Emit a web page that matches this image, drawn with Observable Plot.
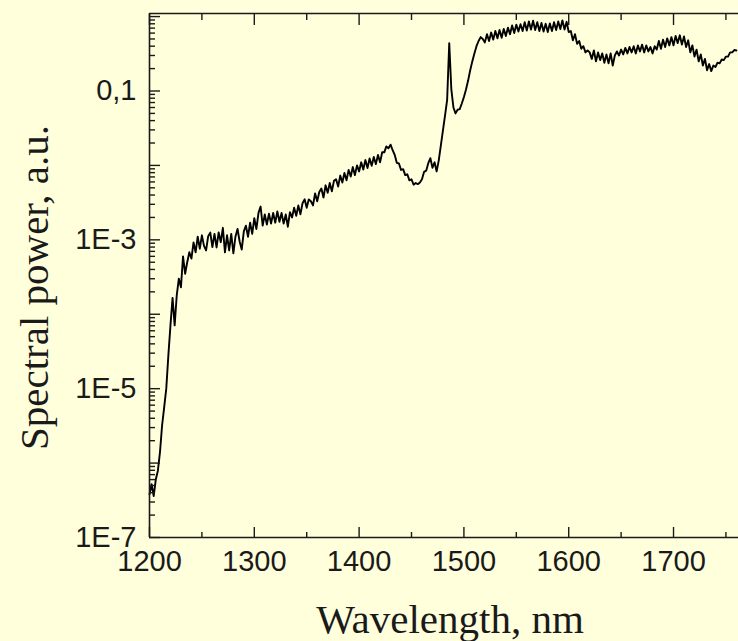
<!DOCTYPE html>
<html>
<head>
<meta charset="utf-8">
<script src="https://cdn.jsdelivr.net/npm/d3@7"></script>
<script src="https://cdn.jsdelivr.net/npm/@observablehq/plot@0.6"></script>
<style>
  html, body { margin: 0; padding: 0; background: #FFFFDC; }
  #chart { width: 738px; height: 641px; overflow: hidden; }
</style>
</head>
<body>
<div id="chart"></div>
<script>
// Sampling grid of the spectrum (nm)
const wavelengthStart = 1200;
const wavelengthStep = 2;

// Spectral power (a.u.), one value per 2 nm from 1200 nm to 1760 nm
const power = [
  // 1200–1218
  3.8e-7, 5.2e-7, 3.6e-7, 6.0e-7, 7.9e-7, 1.4e-6, 3.2e-6, 5.6e-6, 1.0e-5, 2.8e-5,
  // 1220–1238
  7.1e-5, 1.66e-4, 7.1e-5, 1.8e-4, 3.0e-4, 2.3e-4, 6.0e-4, 3.5e-4, 5.0e-4, 6.8e-4,
  // 1240–1258
  5.6e-4, 9.2e-4, 6.8e-4, 1.1e-3, 7.6e-4, 1.15e-3, 8.3e-4, 7.2e-4, 1.12e-3, 1.25e-3,
  // 1260–1278
  8.0e-4, 1.2e-3, 7.9e-4, 1.26e-3, 9.3e-4, 1.45e-3, 6.8e-4, 1.15e-3, 7.2e-4, 1.2e-3,
  // 1280–1298
  6.6e-4, 1.1e-3, 1.4e-3, 9.5e-4, 7.4e-4, 1.3e-3, 1.55e-3, 1.1e-3, 1.7e-3, 1.2e-3,
  // 1300–1318
  1.95e-3, 1.4e-3, 2.3e-3, 2.8e-3, 1.55e-3, 2.2e-3, 1.6e-3, 2.25e-3, 1.65e-3, 2.3e-3,
  // 1320–1338
  1.7e-3, 2.4e-3, 1.75e-3, 2.3e-3, 1.65e-3, 2.2e-3, 1.5e-3, 2.35e-3, 2.0e-3, 2.7e-3,
  // 1340–1358
  2.1e-3, 2.9e-3, 2.2e-3, 3.1e-3, 3.5e-3, 2.7e-3, 3.5e-3, 3.3e-3, 2.9e-3, 4.2e-3,
  // 1360–1378
  3.3e-3, 4.4e-3, 4.9e-3, 3.7e-3, 5.4e-3, 4.3e-3, 5.8e-3, 4.5e-3, 6.2e-3, 6.5e-3,
  // 1380–1398
  5.2e-3, 7.3e-3, 5.9e-3, 7.9e-3, 6.3e-3, 8.7e-3, 7.1e-3, 9.5e-3, 7.4e-3, 1.0e-2,
  // 1400–1418
  8.3e-3, 1.1e-2, 8.8e-3, 1.18e-2, 9.2e-3, 1.24e-2, 9.9e-3, 1.3e-2, 1.04e-2, 1.38e-2,
  // 1420–1438
  1.1e-2, 1.5e-2, 1.5e-2, 1.8e-2, 1.7e-2, 1.9e-2, 1.6e-2, 1.38e-2, 1.08e-2, 1.06e-2,
  // 1440–1458
  8.7e-3, 8.9e-3, 7.4e-3, 7.6e-3, 6.3e-3, 6.5e-3, 5.5e-3, 5.8e-3, 5.6e-3, 5.9e-3,
  // 1460–1478
  6.5e-3, 8.2e-3, 8.5e-3, 1.07e-2, 1.25e-2, 9.3e-3, 1.1e-2, 8.3e-3, 1.17e-2, 1.86e-2,
  // 1480–1498
  2.95e-2, 4.7e-2, 7.6e-2, 0.44, 0.105, 6.0e-2, 5.0e-2, 5.6e-2, 5.7e-2, 6.8e-2,
  // 1500–1518
  8.3e-2, 0.105, 0.138, 0.19, 0.25, 0.32, 0.40, 0.47, 0.53, 0.50,
  // 1520–1538
  0.45, 0.58, 0.47, 0.61, 0.49, 0.64, 0.51, 0.66, 0.52, 0.68,
  // 1540–1558
  0.55, 0.71, 0.58, 0.76, 0.60, 0.78, 0.63, 0.79, 0.64, 0.84,
  // 1560–1578
  0.65, 0.86, 0.67, 0.88, 0.66, 0.84, 0.64, 0.82, 0.63, 0.80,
  // 1580–1598
  0.62, 0.81, 0.64, 0.84, 0.66, 0.86, 0.68, 0.89, 0.67, 0.85,
  // 1600–1618
  0.62, 0.64, 0.48, 0.58, 0.43, 0.47, 0.37, 0.40, 0.33, 0.35,
  // 1620–1638
  0.33, 0.27, 0.35, 0.25, 0.33, 0.26, 0.32, 0.24, 0.31, 0.235,
  // 1640–1658
  0.32, 0.22, 0.30, 0.34, 0.30, 0.36, 0.31, 0.38, 0.32, 0.39,
  // 1660–1678
  0.33, 0.40, 0.32, 0.41, 0.34, 0.42, 0.33, 0.41, 0.34, 0.39,
  // 1680–1698
  0.32, 0.40, 0.36, 0.47, 0.37, 0.49, 0.39, 0.51, 0.41, 0.53,
  // 1700–1718
  0.41, 0.55, 0.44, 0.56, 0.42, 0.54, 0.39, 0.48, 0.33, 0.41,
  // 1720–1738
  0.29, 0.36, 0.25, 0.31, 0.22, 0.27, 0.19, 0.23, 0.185, 0.22,
  // 1740–1758
  0.21, 0.24, 0.235, 0.265, 0.26, 0.29, 0.29, 0.33, 0.33, 0.355,
  // 1760
  0.35
];

// Axes
const xDomain = [1200, 1762];
const yDomain = [1e-7, 1.1];
const xMajorTicks = [1200, 1300, 1400, 1500, 1600, 1700];
const xMinorTicks = [1250, 1350, 1450, 1550, 1650, 1750];
const yMajorTicks = [1e-7, 1e-6, 1e-5, 1e-4, 1e-3, 1e-2, 1e-1, 1];
const yLabelValues = [1e-7, 1e-5, 1e-3, 0.1];
const yLabelTexts = ["1E-7", "1E-5", "1E-3", "0,1"];
const xTitle = "Wavelength, nm";
const yTitle = "Spectral power, a.u.";

const yMinorTicks = [];
for (const decade of yMajorTicks) {
  for (let m = 2; m <= 9; m++) {
    const v = m * decade;
    if (v < yDomain[1]) yMinorTicks.push(v);
  }
}

const data = power.map((p, i) => ({w: wavelengthStart + i * wavelengthStep, p}));
const yLabelMap = new Map(yLabelValues.map((v, i) => [v, yLabelTexts[i]]));

const ink = "#1a1a1a";
const sans = "'Liberation Sans', Arial, Helvetica, sans-serif";
const serif = "'Liberation Serif', 'Times New Roman', Times, serif";

const chart = Plot.plot({
  width: 738,
  height: 641,
  marginLeft: 149,
  marginRight: 0,
  marginTop: 13,
  marginBottom: 104,
  style: {background: "#FFFFDC", overflow: "visible", fontFamily: sans, color: ink},
  x: {domain: xDomain, label: null},
  y: {type: "log", domain: yDomain, label: null},
  marks: [
    Plot.line(data, {x: "w", y: "p", stroke: "#000", strokeWidth: 1.9}),
    // frame lines (no right edge visible)
    Plot.ruleX([xDomain[0]], {stroke: ink, strokeWidth: 1.6}),
    Plot.ruleY([yDomain[0]], {stroke: ink, strokeWidth: 1.6}),
    Plot.ruleY([yDomain[1]], {stroke: ink, strokeWidth: 1.4}),
    // inward ticks
    Plot.axisX(xMajorTicks, {anchor: "bottom", tickSize: -10, fill: "none", stroke: ink, strokeWidth: 1.4, label: null}),
    Plot.axisX(xMinorTicks, {anchor: "bottom", tickSize: -5, fill: "none", stroke: ink, strokeWidth: 1.4, label: null}),
    Plot.axisX(xMajorTicks, {anchor: "top", tickSize: -11, fill: "none", stroke: ink, strokeWidth: 1.4, label: null}),
    Plot.axisX(xMinorTicks, {anchor: "top", tickSize: -6, fill: "none", stroke: ink, strokeWidth: 1.4, label: null}),
    Plot.axisY(yMajorTicks, {anchor: "left", tickSize: -11, fill: "none", stroke: ink, strokeWidth: 1.4, label: null}),
    Plot.axisY(yMinorTicks, {anchor: "left", tickSize: -6, fill: "none", stroke: ink, strokeWidth: 1.4, label: null}),
    // tick labels
    Plot.axisX(xMajorTicks, {anchor: "bottom", tickSize: 0, tickPadding: 13, tickFormat: "d", fontSize: 29, fill: ink, label: null}),
    Plot.axisY(yLabelValues, {anchor: "left", tickSize: 0, tickPadding: 13, tickFormat: d => yLabelMap.get(d), fontSize: 29, fill: ink, label: null}),
    // axis titles
    Plot.text([xTitle], {frameAnchor: "bottom", text: d => d, dx: 6, dy: 82, textAnchor: "middle", lineAnchor: "middle", fontSize: 41, fontFamily: serif, fill: ink}),
    Plot.text([yTitle], {frameAnchor: "left", text: d => d, dx: -115, dy: 12, rotate: -90, textAnchor: "middle", lineAnchor: "middle", fontSize: 41, fontFamily: serif, fill: ink})
  ]
});

document.getElementById("chart").appendChild(chart);
</script>
</body>
</html>
